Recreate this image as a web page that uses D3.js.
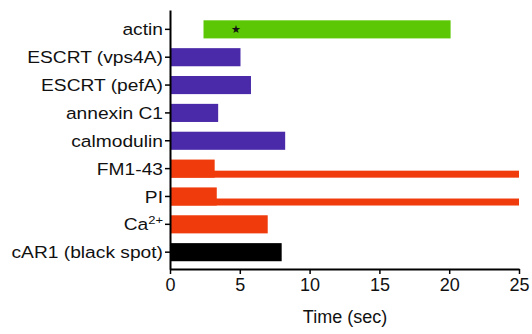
<!DOCTYPE html>
<html>
<head>
<meta charset="utf-8">
<script src="https://cdn.jsdelivr.net/npm/d3@7"></script>
<style>
  body { margin: 0; background: #fff; }
  svg text { font-family: "Liberation Sans", Arial, sans-serif; fill: #111; }
</style>
</head>
<body>
<script>
// categories top -> bottom
var categories = ["actin", "ESCRT (vps4A)", "ESCRT (pefA)", "annexin C1", "calmodulin", "FM1-43", "PI", "Ca2+", "cAR1 (black spot)"];
// main bar start / end (sec)
var barStart = [2.4, 0, 0, 0, 0, 0, 0, 0, 0];
var barEnd   = [20.1, 5.05, 5.8, 3.45, 8.25, 3.2, 3.35, 7.0, 8.0];
var barColor = ["#5cc805", "#4a2aa8", "#4a2aa8", "#4a2aa8", "#4a2aa8", "#f03c0c", "#f03c0c", "#f03c0c", "#000000"];
// thin continuation bars (FM1-43, PI)
var tailCats = ["FM1-43", "PI"];
var tailEnd  = [25, 25];
// star marker on actin
var starCat = "actin", starAt = 4.7;
var xTicks = [0, 5, 10, 15, 20, 25];

var W = 532, H = 334;
var svg = d3.select("body").append("svg").attr("width", W).attr("height", H);

var x = d3.scaleLinear().domain([0, 25]).range([170, 519]);
var y = d3.scaleBand().domain(categories).range([10, 269])
  .paddingInner(0.35).paddingOuter(0.3245).align(0.57);

var data = categories.map(function(c, i) {
  return {cat: c, s: barStart[i], e: barEnd[i], col: barColor[i]};
});

// thin tails first so thick bars sit over them
svg.selectAll("rect.tail").data(tailCats).enter().append("rect")
  .attr("class", "tail")
  .attr("x", x(0))
  .attr("y", d => y(d) + y.bandwidth() - 7)
  .attr("width", (d, i) => x(tailEnd[i]) - x(0))
  .attr("height", 7)
  .attr("fill", "#f03c0c");

svg.selectAll("rect.bar").data(data).enter().append("rect")
  .attr("class", "bar")
  .attr("x", d => x(d.s))
  .attr("y", d => y(d.cat))
  .attr("width", d => x(d.e) - x(d.s))
  .attr("height", y.bandwidth())
  .attr("fill", d => d.col);

svg.append("text")
  .attr("x", x(starAt)).attr("y", y(starCat) + y.bandwidth() / 2 + 4)
  .attr("text-anchor", "middle").style("font-size", "11px")
  .text("\u2605");

// y axis
var yAxis = svg.append("g").attr("transform", "translate(170,0)")
  .call(d3.axisLeft(y).tickSize(5).tickSizeOuter(0).tickFormat(""));
yAxis.select(".domain").attr("stroke", "#000").attr("stroke-width", 2);
yAxis.selectAll(".tick line").attr("stroke", "#000").attr("stroke-width", 1.5);
yAxis.selectAll(".tick").append("text")
  .attr("transform", "translate(-7,0) scale(1.13,1)")
  .attr("dy", "0.36em")
  .attr("text-anchor", "end")
  .style("font-size", "17px")
  .each(function(d) {
    var t = d3.select(this);
    if (d === "Ca2+") {
      t.append("tspan").text("Ca");
      t.append("tspan").attr("dy", "-0.55em").style("font-size", "11.5px").text("2+");
    } else {
      t.text(d);
    }
  });

// x axis
var xAxis = svg.append("g").attr("transform", "translate(0,269)")
  .call(d3.axisBottom(x).tickValues(xTicks).tickSize(5).tickSizeOuter(0));
xAxis.select(".domain").attr("stroke", "#000").attr("stroke-width", 2);
xAxis.selectAll(".tick line").attr("stroke", "#000").attr("stroke-width", 1.5);
xAxis.selectAll(".tick text").attr("y", 9).style("font-size", "18px")
  .style("font-family", "'Liberation Sans', Arial, sans-serif").attr("fill", "#111");

svg.append("text")
  .attr("x", 345).attr("y", 323)
  .attr("text-anchor", "middle")
  .style("font-size", "18px")
  .text("Time (sec)");
</script>
</body>
</html>
